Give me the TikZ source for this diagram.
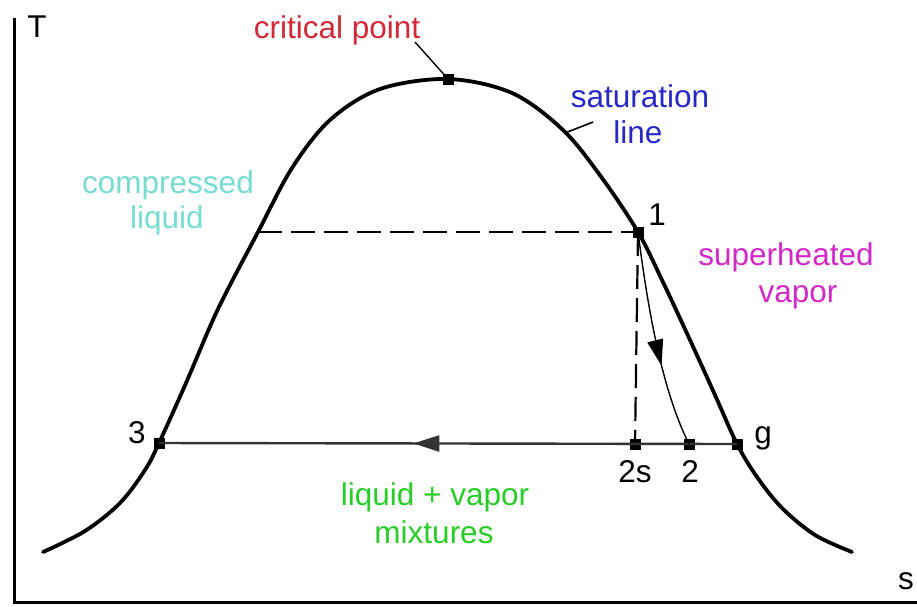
\documentclass[tikz,border=0pt]{standalone}
\usepackage{fontspec}
\setmainfont{Liberation Sans}
\usetikzlibrary{arrows.meta,decorations.markings}
\definecolor{cpred}{RGB}{210,40,55}
\definecolor{satblue}{RGB}{40,40,200}
\definecolor{cliq}{RGB}{120,220,210}
\definecolor{shmag}{RGB}{210,40,200}
\definecolor{mixgreen}{RGB}{40,205,40}
\begin{document}
\begin{tikzpicture}[x=1pt,y=-1pt,
  lbl/.style={font=\fontsize{31.5}{36}\selectfont, anchor=base, inner sep=0pt},
  ptbox/.style={rectangle, fill=black, minimum size=11pt, inner sep=0pt},
  satcurve/.style={line width=3.8pt, line cap=round, line join=round},
  axisline/.style={line width=3pt},
  dashline/.style={line width=2.2pt, dash pattern=on 24pt off 9pt},
  procline/.style={line width=2.4pt, draw=black!80},
  thinline/.style={line width=1.4pt},
  midarrow/.style={postaction={decorate}, decoration={markings,
     mark=at position #1 with {\arrow{Triangle[length=26pt,width=16pt]}}}}
]
\useasboundingbox (0,0) rectangle (917,606);
\fill[white] (0,0) rectangle (917,606);
% axes
\coordinate (ytop) at (14,18);
\coordinate (orig) at (14,602);
\coordinate (xend) at (917,602);
\draw[axisline] (ytop) -- (orig) -- (xend);
% saturation curve
\draw[satcurve] plot[smooth, tension=0.55] coordinates {
 (43,552) (85,531) (120,503) (145,470) (159,443) (186,383) (218,309) (258,232)
 (292,168) (330,120) (380,89) (448,79) (512,93) (563,130) (602,178)
 (638,232) (662,280) (690,340) (715,395) (737,444) (757,477) (782,508) (815,535) (852,552)};
% points
\node[ptbox] (cp) at (448,79) {};
\node[ptbox] (p1) at (638,232) {};
\node[ptbox] (p3) at (159,443) {};
\node[ptbox] (p2s) at (635,444) {};
\node[ptbox] (p2) at (689,444) {};
\node[ptbox] (pg) at (737,444) {};
\coordinate (dl) at (258,232);
% dashed lines
\draw[dashline] (dl) -- (p1.center);
\draw[dashline] (p1.center) -- (p2s.center);
% process lines
\draw[procline, midarrow=0.56] (pg.center) -- (p3.center);
\draw[thinline, midarrow=0.62] (p1.center) .. controls (648,310) and (662,390) .. (p2.center);
% leaders
\coordinate (cpl) at (415,42);
\draw[line width=1.4pt] (cpl) -- (cp.center);
\coordinate (sat0) at (565,133);
\coordinate (sat1) at (593,122);
\draw[line width=1.6pt] (sat0) -- (sat1);
% labels
\node[lbl, text=cpred] (tcp) at (337,38) {critical point};
\node[lbl, text=satblue] (tsat1) at (640,107) {saturation};
\node[lbl, text=satblue] (tsat2) at (638,143) {line};
\node[lbl, text=cliq] (tcl1) at (168,193) {compressed};
\node[lbl, text=cliq] (tcl2) at (167,228) {liquid};
\node[lbl, text=shmag] (tsh1) at (786,265) {superheated};
\node[lbl, text=shmag] (tsh2) at (798,302) {vapor};
\node[lbl, text=mixgreen] (tm1) at (435,505) {liquid + vapor};
\node[lbl, text=mixgreen] (tm2) at (434,543) {mixtures};
\node[lbl] (tT) at (37,37) {T};
\node[lbl] (ts) at (906,589) {s};
\node[lbl] (t1) at (657,225) {1};
\node[lbl] (t3) at (137,443) {3};
\node[lbl] (tg) at (763,443) {g};
\node[lbl] (t2s) at (635,482) {2s};
\node[lbl] (t2) at (690,482) {2};
\end{tikzpicture}
\end{document}
